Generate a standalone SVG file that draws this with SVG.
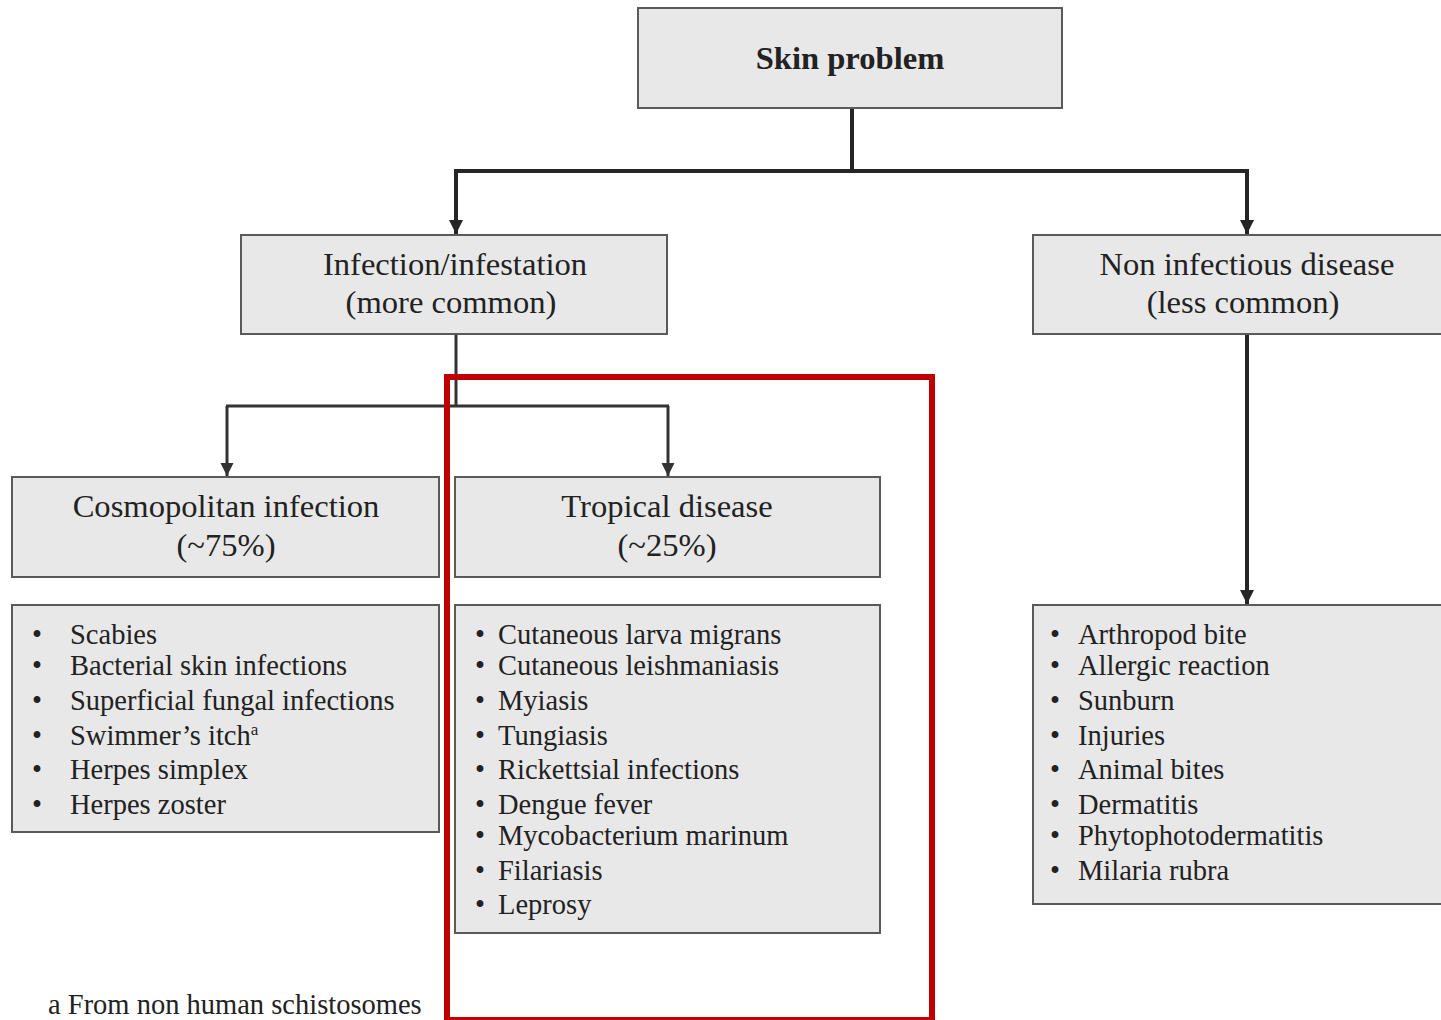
<svg xmlns="http://www.w3.org/2000/svg" width="1441" height="1020" viewBox="0 0 1441 1020">
<style>
.box{fill:#e8e8e8;stroke:#5a5a5a;stroke-width:2}
.t{font-family:"Liberation Serif","Times New Roman",serif;fill:#222;font-size:32.6px;text-anchor:middle}
.l{font-family:"Liberation Serif","Times New Roman",serif;fill:#222;font-size:28.5px}
.c{fill:none;stroke:#252525;stroke-width:4}
.c2{fill:none;stroke:#333;stroke-width:3}
</style>
<defs>
<marker id="ah" viewBox="0 0 10 10" refX="10" refY="5" markerWidth="3.5" markerHeight="3.5" orient="auto" markerUnits="strokeWidth">
<path d="M0,0 L10,5 L0,10 Z" fill="#252525"/>
</marker>
<marker id="ah2" viewBox="0 0 10 10" refX="10" refY="5" markerWidth="4.5" markerHeight="4.5" orient="auto" markerUnits="strokeWidth">
<path d="M0,0 L10,5 L0,10 Z" fill="#333"/>
</marker>
</defs>
<rect width="1441" height="1020" fill="#fff"/>
<g id="connectors">
<path class="c" d="M852,108 V171"/>
<path class="c" d="M454,171 H1249"/>
<path class="c" d="M456,171 V234" marker-end="url(#ah)"/>
<path class="c" d="M1247,171 V234" marker-end="url(#ah)"/>
<path class="c2" d="M456,334 V406"/>
<path class="c2" d="M226,406 H669"/>
<path class="c2" d="M227,406 V476" marker-end="url(#ah2)"/>
<path class="c2" d="M668,406 V476" marker-end="url(#ah2)"/>
<path class="c" d="M1247,334 V604" marker-end="url(#ah)"/>
</g>
<g id="skin-problem">
<rect class="box" x="638" y="8" width="424" height="100"/>
<text class="t" x="850" y="69" font-weight="bold" font-size="35px">Skin problem</text>
</g>
<g id="infection">
<rect class="box" x="241" y="235" width="426" height="99"/>
<text class="t" x="455" y="275">Infection/infestation</text>
<text class="t" x="451" y="313">(more common)</text>
</g>
<g id="non-infectious">
<rect class="box" x="1033" y="235" width="412" height="99"/>
<text class="t" x="1247" y="275">Non infectious disease</text>
<text class="t" x="1243" y="313">(less common)</text>
</g>
<g id="cosmopolitan">
<rect class="box" x="12" y="477" width="427" height="100"/>
<text class="t" x="226" y="517">Cosmopolitan infection</text>
<text class="t" x="226" y="556">(~75%)</text>
</g>
<g id="tropical">
<rect class="box" x="455" y="477" width="425" height="100"/>
<text class="t" x="667" y="517">Tropical disease</text>
<text class="t" x="667" y="556">(~25%)</text>
</g>
<g id="cosmopolitan-list">
<rect class="box" x="12" y="605" width="427" height="227"/>
<g class="l">
<text x="32" y="644">•</text><text x="70" y="644">Scabies</text>
<text x="32" y="675">•</text><text x="70" y="675">Bacterial skin infections</text>
<text x="32" y="710">•</text><text x="70" y="710">Superficial fungal infections</text>
<text x="32" y="745">•</text><text x="70" y="745">Swimmer’s itch<tspan font-size="17" dy="-10">a</tspan></text>
<text x="32" y="779">•</text><text x="70" y="779">Herpes simplex</text>
<text x="32" y="814">•</text><text x="70" y="814">Herpes zoster</text>
</g>
</g>
<g id="tropical-list">
<rect class="box" x="455" y="605" width="425" height="328"/>
<g class="l">
<text x="475" y="644">•</text><text x="498" y="644">Cutaneous larva migrans</text>
<text x="475" y="675">•</text><text x="498" y="675">Cutaneous leishmaniasis</text>
<text x="475" y="710">•</text><text x="498" y="710">Myiasis</text>
<text x="475" y="745">•</text><text x="498" y="745">Tungiasis</text>
<text x="475" y="779">•</text><text x="498" y="779">Rickettsial infections</text>
<text x="475" y="814">•</text><text x="498" y="814">Dengue fever</text>
<text x="475" y="845">•</text><text x="498" y="845">Mycobacterium marinum</text>
<text x="475" y="880">•</text><text x="498" y="880">Filariasis</text>
<text x="475" y="914">•</text><text x="498" y="914">Leprosy</text>
</g>
</g>
<g id="non-infectious-list">
<rect class="box" x="1033" y="605" width="412" height="299"/>
<g class="l">
<text x="1050" y="644">•</text><text x="1078" y="644">Arthropod bite</text>
<text x="1050" y="675">•</text><text x="1078" y="675">Allergic reaction</text>
<text x="1050" y="710">•</text><text x="1078" y="710">Sunburn</text>
<text x="1050" y="745">•</text><text x="1078" y="745">Injuries</text>
<text x="1050" y="779">•</text><text x="1078" y="779">Animal bites</text>
<text x="1050" y="814">•</text><text x="1078" y="814">Dermatitis</text>
<text x="1050" y="845">•</text><text x="1078" y="845">Phytophotodermatitis</text>
<text x="1050" y="880">•</text><text x="1078" y="880">Milaria rubra</text>
</g>
</g>
<text class="l" x="48" y="1014" font-size="26.4px">a From non human schistosomes</text>
<rect x="447" y="377" width="485" height="643" fill="none" stroke="#c00000" stroke-width="6"/>
</svg>
